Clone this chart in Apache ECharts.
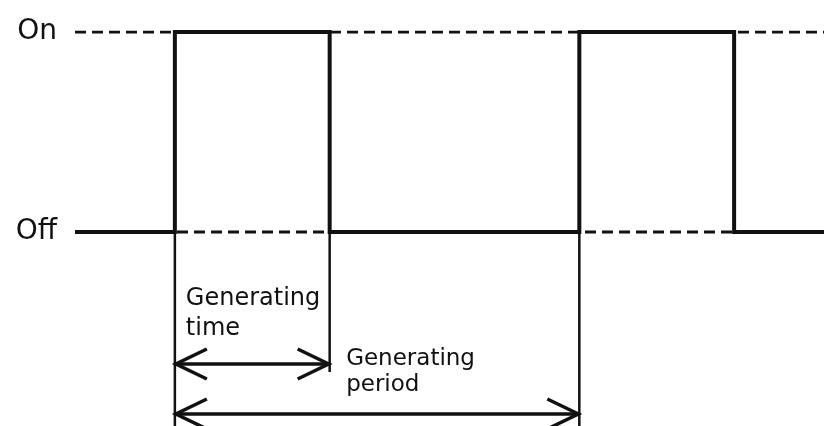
<!DOCTYPE html>
<html>
<head>
<meta charset="utf-8">
<script src="https://cdn.jsdelivr.net/npm/echarts@6/dist/echarts.min.js"></script>
<style>html,body{margin:0;padding:0;background:#fff}#c{width:824px;height:426px}</style>
</head>
<body>
<div id="c"></div>
<script>
// ---- data (time units, signal level 0 = Off, 1 = On) ----
const levelLabels = ['Off', 'On'];
const edgeTimes = [4, 10.2, 20.2, 26.4];          // switching instants
const signalTimes = [0, 4, 10.2, 20.2, 26.4, 30];
const signalLevels = [0, 1, 0, 1, 0, 0];
const guideTimes = [4, 10.2, 20.2];               // vertical reference lines below Off
const guideEnds = [-0.97, -0.70, -0.97];
const arrowStarts = [4, 4];
const arrowEnds = [10.2, 20.2];
const arrowLevels = [-0.66, -0.91];
const annotationTexts = ['Generating\ntime', 'Generating\nperiod'];
const annotationX = [4.44, 10.86];
const annotationY = [-0.26, -0.57];

const INK = '#111';
const FONT = '"DejaVu Sans", sans-serif';

const chart = echarts.init(document.getElementById('c'), null, {renderer: 'canvas'});

const signalData = signalTimes.map((t, i) => [t, signalLevels[i]]);
const guideData = guideTimes.map((t, i) => [t, 0, guideEnds[i]]);
const arrowData = arrowStarts.map((s, i) => [s, arrowEnds[i], arrowLevels[i]]);
const textData = annotationTexts.map((t, i) => [annotationX[i], annotationY[i], i]);

const option = {
  animation: false,
  backgroundColor: '#fff',
  grid: {left: 75, right: 0, top: 32, bottom: 0, containLabel: false},
  xAxis: {
    type: 'value', min: 0, max: 30,
    show: false
  },
  yAxis: {
    type: 'value', min: -0.97, max: 1,
    axisLine: {show: false}, axisTick: {show: false}, splitLine: {show: false},
    axisLabel: {
      customValues: [0, 1],
      formatter: v => levelLabels[Math.round(v)] || '',
      color: INK, fontFamily: FONT, fontSize: 28, margin: 18
    }
  },
  series: [
    {
      type: 'line', silent: true, symbol: 'none',
      data: [[0, 1], [30, 1]],
      lineStyle: {color: INK, width: 3, type: [11, 6]}, z: 1
    },
    {
      type: 'line', silent: true, symbol: 'none',
      data: [[0, 0], [30, 0]],
      lineStyle: {color: INK, width: 3, type: [11, 6]}, z: 1
    },
    {
      type: 'custom', silent: true, z: 2,
      data: guideData,
      renderItem: (params, api) => {
        const a = api.coord([api.value(0), api.value(1)]);
        const b = api.coord([api.value(0), api.value(2)]);
        return {type: 'line', shape: {x1: a[0], y1: a[1], x2: b[0], y2: b[1]},
          style: {stroke: INK, lineWidth: 2.5}};
      }
    },
    {
      type: 'line', silent: true, symbol: 'none', step: 'end',
      data: signalData,
      lineStyle: {color: INK, width: 4, join: 'miter'}, z: 3
    },
    {
      type: 'custom', silent: true, z: 4,
      data: arrowData,
      renderItem: (params, api) => {
        const a = api.coord([api.value(0), api.value(2)]);
        const b = api.coord([api.value(1), api.value(2)]);
        const hx = 32, hy = 15;
        const st = {stroke: INK, lineWidth: 3.5, fill: null};
        return {type: 'group', children: [
          {type: 'line', shape: {x1: a[0], y1: a[1], x2: b[0], y2: b[1]}, style: st},
          {type: 'polyline', shape: {points: [[a[0] + hx, a[1] - hy], [a[0] + 1, a[1]], [a[0] + hx, a[1] + hy]]}, style: st},
          {type: 'polyline', shape: {points: [[b[0] - hx, b[1] - hy], [b[0] - 1, b[1]], [b[0] - hx, b[1] + hy]]}, style: st}
        ]};
      }
    },
    {
      type: 'custom', silent: true, z: 5,
      data: textData,
      renderItem: (params, api) => {
        const p = api.coord([api.value(0), api.value(1)]);
        const i = api.value(2);
        return {type: 'text', x: p[0], y: p[1], style: {
          text: annotationTexts[i], fill: INK, font: (i === 0 ? '24px ' : '23px ') + FONT,
          lineHeight: i === 0 ? 30 : 26, align: 'left', verticalAlign: 'top'
        }};
      }
    }
  ]
};
chart.setOption(option);
</script>
</body>
</html>
